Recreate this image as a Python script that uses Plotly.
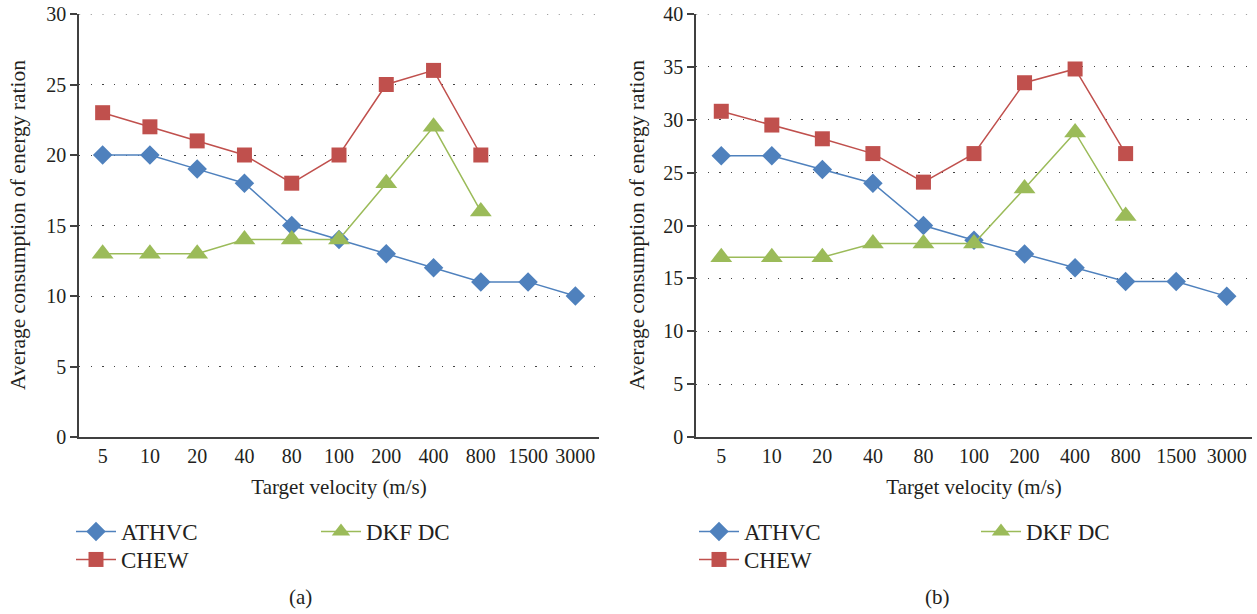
import plotly.graph_objects as go

categories = ["5", "10", "20", "40", "80", "100", "200", "400", "800", "1500", "3000"]

# Panel (a)
a_athvc = [20, 20, 19, 18, 15, 14, 13, 12, 11, 11, 10]
a_chew = [23, 22, 21, 20, 18, 20, 25, 26, 20]
a_dkf = [13, 13, 13, 14, 14, 14, 18, 22, 16]
a_ymax = 30

# Panel (b)
b_athvc = [26.6, 26.6, 25.3, 24, 20, 18.6, 17.3, 16, 14.7, 14.7, 13.3]
b_chew = [30.8, 29.5, 28.2, 26.8, 24.1, 26.8, 33.5, 34.8, 26.8]
b_dkf = [17.0, 17.0, 17.0, 18.3, 18.3, 18.3, 23.5, 28.8, 20.9]
b_ymax = 40

BLUE = "#4F81BD"
RED = "#C0504D"
GREEN = "#9BBB59"
FONT = "Liberation Serif, DejaVu Serif, serif"
TXT = "#231F20"
W, H = 1257, 614

def px_x(p):
    return p / W

def px_y(p):
    return (H - p) / H

fig = go.Figure()

def add_panel(xa, ya, athvc, chew, dkf, legs):
    fig.add_trace(go.Scatter(x=categories[:len(athvc)], y=athvc, name="ATHVC", mode="lines+markers",
                             line=dict(color=BLUE, width=1.5),
                             marker=dict(symbol="diamond", size=15, color=BLUE),
                             xaxis=xa, yaxis=ya, legend=legs[0]))
    fig.add_trace(go.Scatter(x=categories[:len(chew)], y=chew, name="CHEW", mode="lines+markers",
                             line=dict(color=RED, width=1.5),
                             marker=dict(symbol="square", size=15, color=RED),
                             xaxis=xa, yaxis=ya, legend=legs[1]))
    fig.add_trace(go.Scatter(x=categories[:len(dkf)], y=dkf, name="DKF DC", mode="lines+markers",
                             line=dict(color=GREEN, width=1.5),
                             marker=dict(symbol="triangle-up", size=19, color=GREEN),
                             xaxis=xa, yaxis=ya, legend=legs[2]))

add_panel("x", "y", a_athvc, a_chew, a_dkf, ["legend", "legend2", "legend3"])
add_panel("x2", "y2", b_athvc, b_chew, b_dkf, ["legend4", "legend5", "legend6"])

GRID_DASH = "1.2px,10.5px"
ydom = [px_y(437), px_y(14)]
xaxis_common = dict(type="category", showline=True, linecolor="#404040", linewidth=1.5,
                    ticks="", showgrid=False, zeroline=False, automargin=False,
                    tickfont=dict(family=FONT, size=20, color=TXT),
                    title=dict(text="Target velocity (m/s)", font=dict(family=FONT, size=21, color=TXT),
                               standoff=14),
                    range=[-0.5, 10.5], fixedrange=True)
yaxis_common = dict(showline=True, linecolor="#404040", linewidth=1.5, ticks="outside",
                    ticklen=7, tickcolor="#404040", tickwidth=1.5, automargin=False,
                    showgrid=True, gridcolor="#444", gridwidth=1.2, griddash=GRID_DASH,
                    zeroline=False, dtick=5, ticklabeloverflow="allow", fixedrange=True,
                    tickfont=dict(family=FONT, size=20, color=TXT))

fig.update_layout(
    template="none",
    width=W, height=H,
    margin=dict(l=0, r=0, t=0, b=0, autoexpand=False),
    paper_bgcolor="white", plot_bgcolor="white",
    showlegend=True,
    xaxis=dict(**xaxis_common, domain=[px_x(79), px_x(599)], anchor="y"),
    yaxis=dict(**yaxis_common, domain=ydom, range=[0, a_ymax], anchor="x"),
    xaxis2=dict(**xaxis_common, domain=[px_x(696), px_x(1252)], anchor="y2"),
    yaxis2=dict(**yaxis_common, domain=ydom, range=[0, b_ymax], anchor="x2"),
)

# top gridline (plotly skips the grid line at the range end)
for xr, yr, ym in (("x domain", "y", a_ymax), ("x2 domain", "y2", b_ymax)):
    fig.add_shape(type="line", xref=xr, yref=yr, x0=0, x1=1, y0=ym, y1=ym,
                  line=dict(color="#444", width=1.2, dash=GRID_DASH), layer="below")

leg_font = dict(family=FONT, size=23, color=TXT)
common_leg = dict(xanchor="left", yanchor="top", font=leg_font, bgcolor="rgba(0,0,0,0)",
                  itemwidth=40, borderwidth=0)
fig.update_layout(
    legend=dict(x=px_x(71), y=px_y(510), **common_leg),
    legend2=dict(x=px_x(71), y=px_y(538), **common_leg),
    legend3=dict(x=px_x(316), y=px_y(510), **common_leg),
    legend4=dict(x=px_x(694), y=px_y(510), **common_leg),
    legend5=dict(x=px_x(694), y=px_y(538), **common_leg),
    legend6=dict(x=px_x(976), y=px_y(510), **common_leg),
)

ytitle = "Average consumption of energy ration"
for xp in (18, 637):
    fig.add_annotation(text=ytitle, x=px_x(xp), y=px_y(225), xref="paper", yref="paper",
                       xanchor="center", yanchor="middle", textangle=-90, showarrow=False,
                       font=dict(family=FONT, size=21.5, color=TXT))

for lbl, xp in (("(a)", 300), ("(b)", 937)):
    fig.add_annotation(text=lbl, x=px_x(xp), y=px_y(597), xref="paper", yref="paper",
                       xanchor="center", yanchor="middle", showarrow=False,
                       font=dict(family=FONT, size=21, color=TXT))

fig.write_html("out.html", config={"displayModeBar": False},
               post_script="document.body.style.margin='0';document.body.style.padding='0';")
